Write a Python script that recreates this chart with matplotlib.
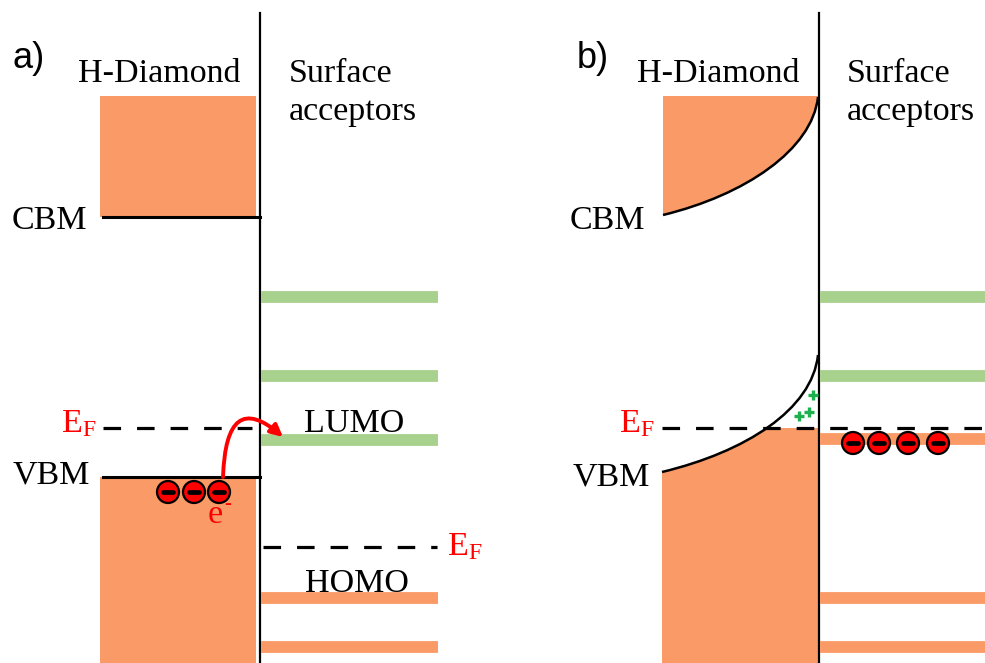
import matplotlib.pyplot as plt
from matplotlib.patches import Rectangle, Circle, PathPatch, FancyArrowPatch
from matplotlib.path import Path

plt.rcParams['font.family'] = 'Liberation Serif'
plt.rcParams['mathtext.fontset'] = 'custom'
plt.rcParams['mathtext.rm'] = 'Liberation Serif'
plt.rcParams['mathtext.it'] = 'Liberation Serif:italic'

ORANGE = '#FA9A66'
GREEN = '#A9D18E'
RED = '#FF0000'

# ---------------- energy levels (y in picture units, top = 0) ----------
interface_x = [260, 819]          # interface line of each panel
diamond_left = [100, 663]
acceptor_right = [438, 985]

cb_top = 96
cbm_a = 217
vbm_a = 477
ef_a_diamond = 428
ef_a_acceptor = 547
lumo_levels = [297, 376, 440]      # panel a, green
homo_levels = [598, 647]           # both panels, orange
lumo_levels_b = [297, 376]
filled_level_b = 439
ef_b = 428

# band bending in panel b (bezier control points)
cb_bend = [(663, 215), (745, 195), (812, 150), (818, 97)]
vb_bend = [(662, 472), (745, 452), (812, 410), (818, 355)]

electrons_a = [168, 194, 219]
electron_y_a = 492
electrons_b = [853, 879, 908, 938]
electron_y_b = 443
holes_x = [799, 809, 813]
holes_y = [416, 412, 395]

fig = plt.figure(figsize=(9.85, 6.63), dpi=100)
ax = fig.add_axes([0, 0, 1, 1])
ax.set_xlim(0, 985)
ax.set_ylim(663, 0)
ax.axis('off')

FS = 24.5


def electron(x, y):
    ax.add_patch(Circle((x, y), 11, facecolor=RED, edgecolor='black', lw=1.6, zorder=5))
    ax.plot([x - 5, x + 5], [y, y], color='black', lw=3.4, solid_capstyle='round', zorder=6)


def ef_label(x, y):
    ax.text(x, y, r'$\mathrm{E_F}$', color=RED, fontsize=FS, ha='left', va='baseline')


# ---------------- panel a ----------------
ax.add_patch(Rectangle((diamond_left[0], cb_top), 256 - diamond_left[0], cbm_a - cb_top,
                       facecolor=ORANGE, edgecolor='none'))
ax.add_patch(Rectangle((diamond_left[0], vbm_a), 256 - diamond_left[0], 663 - vbm_a,
                       facecolor=ORANGE, edgecolor='none'))
ax.plot([103, interface_x[0]], [cbm_a, cbm_a], color='black', lw=2.2)
ax.plot([103, interface_x[0]], [vbm_a, vbm_a], color='black', lw=2.2)
ax.plot([interface_x[0]] * 2, [13, 663], color='black', lw=1.6)

ax.hlines(lumo_levels, interface_x[0] + 1, acceptor_right[0], color=GREEN, lw=8.5)
ax.hlines(homo_levels, interface_x[0] + 1, acceptor_right[0], color=ORANGE, lw=8.5)

ax.plot([103, 252], [ef_a_diamond] * 2, color='black', lw=2.3, dashes=(5.5, 5))
ax.plot([263, 437], [ef_a_acceptor] * 2, color='black', lw=2.3, dashes=(5.5, 5))

for ex in electrons_a:
    electron(ex, electron_y_a)

arrow_path = Path([(223, 477), (226, 388), (283, 437)], [Path.MOVETO, Path.CURVE3, Path.CURVE3])
ax.add_patch(FancyArrowPatch(path=arrow_path, arrowstyle='-|>', mutation_scale=18,
                             color=RED, lw=2.8, zorder=7))

ax.text(12, 68, 'a)', fontsize=26, family='Liberation Sans', ha='left', va='baseline')
ax.text(159, 82, 'H-Diamond', fontsize=FS, ha='center', va='baseline')
ax.text(289, 82, 'Surface', fontsize=FS, ha='left', va='baseline')
ax.text(289, 120, 'acceptors', fontsize=FS, ha='left', va='baseline')
ax.text(12, 229, 'CBM', fontsize=FS, ha='left', va='baseline')
ax.text(13, 483, 'VBM', fontsize=FS, ha='left', va='baseline')
ef_label(61, 432)
ef_label(447, 555)
ax.text(354, 432, 'LUMO', fontsize=FS, ha='center', va='baseline')
ax.text(357, 592, 'HOMO', fontsize=FS, ha='center', va='baseline')
ax.text(208, 523, 'e', color=RED, fontsize=FS, ha='left', va='baseline')
ax.text(224, 509, '-', color=RED, fontsize=15, ha='left', va='baseline')

# ---------------- panel b ----------------
curve4 = [Path.CURVE4] * 3
cb_fill = Path(cb_bend + [(818, cb_top), (cb_bend[0][0], cb_top), cb_bend[0]],
               [Path.MOVETO] + curve4 + [Path.LINETO, Path.LINETO, Path.CLOSEPOLY])
ax.add_patch(PathPatch(cb_fill, facecolor=ORANGE, edgecolor='none'))
ax.add_patch(PathPatch(Path(cb_bend, [Path.MOVETO] + curve4), facecolor='none',
                       edgecolor='black', lw=1.8))

vb_fill = Path(vb_bend + [(818, 663), (vb_bend[0][0], 663), vb_bend[0]],
               [Path.MOVETO] + curve4 + [Path.LINETO, Path.LINETO, Path.CLOSEPOLY])
vb_patch = PathPatch(vb_fill, facecolor=ORANGE, edgecolor='none')
ax.add_patch(vb_patch)
below_ef = Rectangle((600, ef_b), 300, 663 - ef_b, transform=ax.transData)
vb_patch.set_clip_path(below_ef)
ax.add_patch(PathPatch(Path(vb_bend, [Path.MOVETO] + curve4), facecolor='none',
                       edgecolor='black', lw=1.8))

ax.plot([interface_x[1]] * 2, [13, 663], color='black', lw=1.6)
ax.hlines(lumo_levels_b, interface_x[1] + 1, acceptor_right[1], color=GREEN, lw=8.5)
ax.hlines([filled_level_b] + homo_levels, interface_x[1] + 1, acceptor_right[1], color=ORANGE, lw=8.5)
ax.plot([662, 985], [ef_b] * 2, color='black', lw=2.3, dashes=(5.5, 5), zorder=4)

for ex in electrons_b:
    electron(ex, electron_y_b)
ax.plot(holes_x, holes_y, linestyle='none', marker='+', markersize=7,
        markeredgewidth=2.4, color='#1DB04E')

ax.text(577, 68, 'b)', fontsize=26, family='Liberation Sans', ha='left', va='baseline')
ax.text(718, 82, 'H-Diamond', fontsize=FS, ha='center', va='baseline')
ax.text(847, 82, 'Surface', fontsize=FS, ha='left', va='baseline')
ax.text(847, 120, 'acceptors', fontsize=FS, ha='left', va='baseline')
ax.text(570, 229, 'CBM', fontsize=FS, ha='left', va='baseline')
ax.text(573, 485, 'VBM', fontsize=FS, ha='left', va='baseline')
ef_label(619, 432)

fig.savefig('out.png', dpi=100)
